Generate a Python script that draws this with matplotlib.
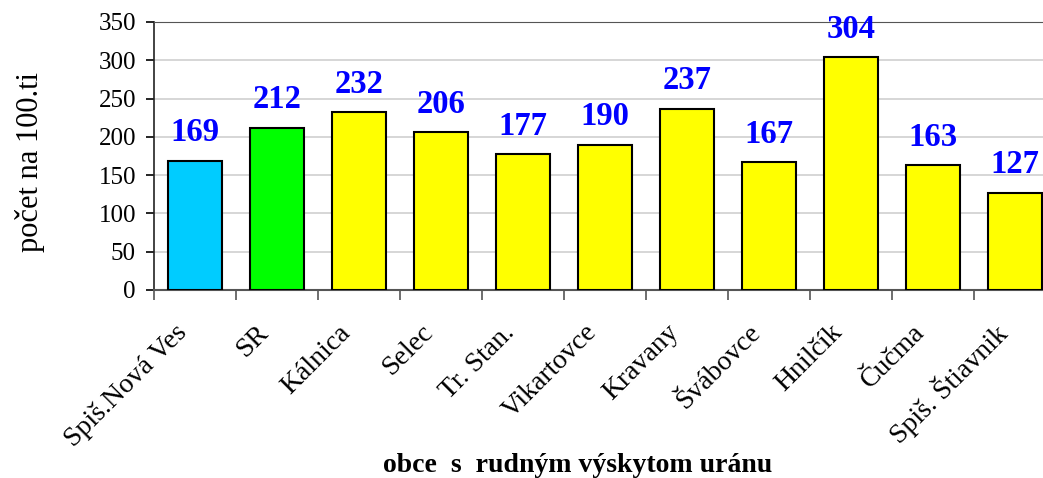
import matplotlib.pyplot as plt
import matplotlib.transforms as mtransforms
import numpy as np

obce = ['Spiš.Nová Ves', 'SR', 'Kálnica', 'Selec', 'Tr. Stan.', 'Vikartovce',
        'Kravany', 'Švábovce', 'Hnilčík', 'Čučma', 'Spiš. Štiavnik']
hodnoty = [169, 212, 232, 206, 177, 190, 237, 167, 304, 163, 127]
farby = ['#00CCFF', '#00FF00'] + ['#FFFF00'] * 9

plt.rcParams['font.family'] = ['Liberation Serif', 'DejaVu Serif']

fig = plt.figure(figsize=(10.43, 4.78), dpi=100)
ax = fig.add_axes([154 / 1043, 1 - 290 / 478, 902 / 1043, 268 / 478])

x = np.arange(len(obce))
ax.bar(x, hodnoty, width=0.66, color=farby, edgecolor='black', linewidth=1.5, zorder=3)

# hodnoty nad stlpcami
for xi, v in zip(x, hodnoty):
    ax.annotate(str(v), (xi, v), xytext=(0, 9), textcoords='offset points',
                ha='center', va='bottom', color='#0000FF', fontsize=23.5, fontweight='bold')

ax.set_xlim(-0.5, len(obce) - 0.5)
ax.set_ylim(0, 350)
ax.set_yticks(np.arange(0, 351, 50))
ax.tick_params(axis='y', labelsize=18, direction='out', length=6, width=1.2, pad=7)
ax.yaxis.grid(True, color='#d0d0d0', linewidth=1.2, zorder=0)

ax.set_xticks(x)
ax.set_xticklabels(obce, rotation=45, ha='right', va='center', rotation_mode='anchor', fontsize=20)
ax.tick_params(axis='x', which='major', length=0, pad=28)
ax.set_xticks(np.arange(-0.5, len(obce), 1), minor=True)
ax.tick_params(axis='x', which='minor', direction='out', length=7, width=1.2, color='#555555')

# posun popisov trochu dolava
posun = mtransforms.ScaledTranslation(-12 / 100, 0, fig.dpi_scale_trans)
for lbl in ax.get_xticklabels():
    lbl.set_transform(lbl.get_transform() + posun)

ax.spines['right'].set_visible(False)
ax.spines['top'].set_color('#555555')
ax.spines['left'].set_color('#222222')
ax.spines['left'].set_linewidth(1.2)
ax.spines['bottom'].set_color('#555555')
ax.spines['bottom'].set_linewidth(1.5)

fig.text(30 / 1043, 1 - 162 / 478, 'počet na 100.ti', rotation=90, ha='center', va='center', fontsize=22)
fig.text(578 / 1043, 1 - 465 / 478, 'obce  s  rudným výskytom uránu', ha='center', va='center',
         fontsize=20, fontweight='bold')

fig.savefig('out.png', dpi=100)
